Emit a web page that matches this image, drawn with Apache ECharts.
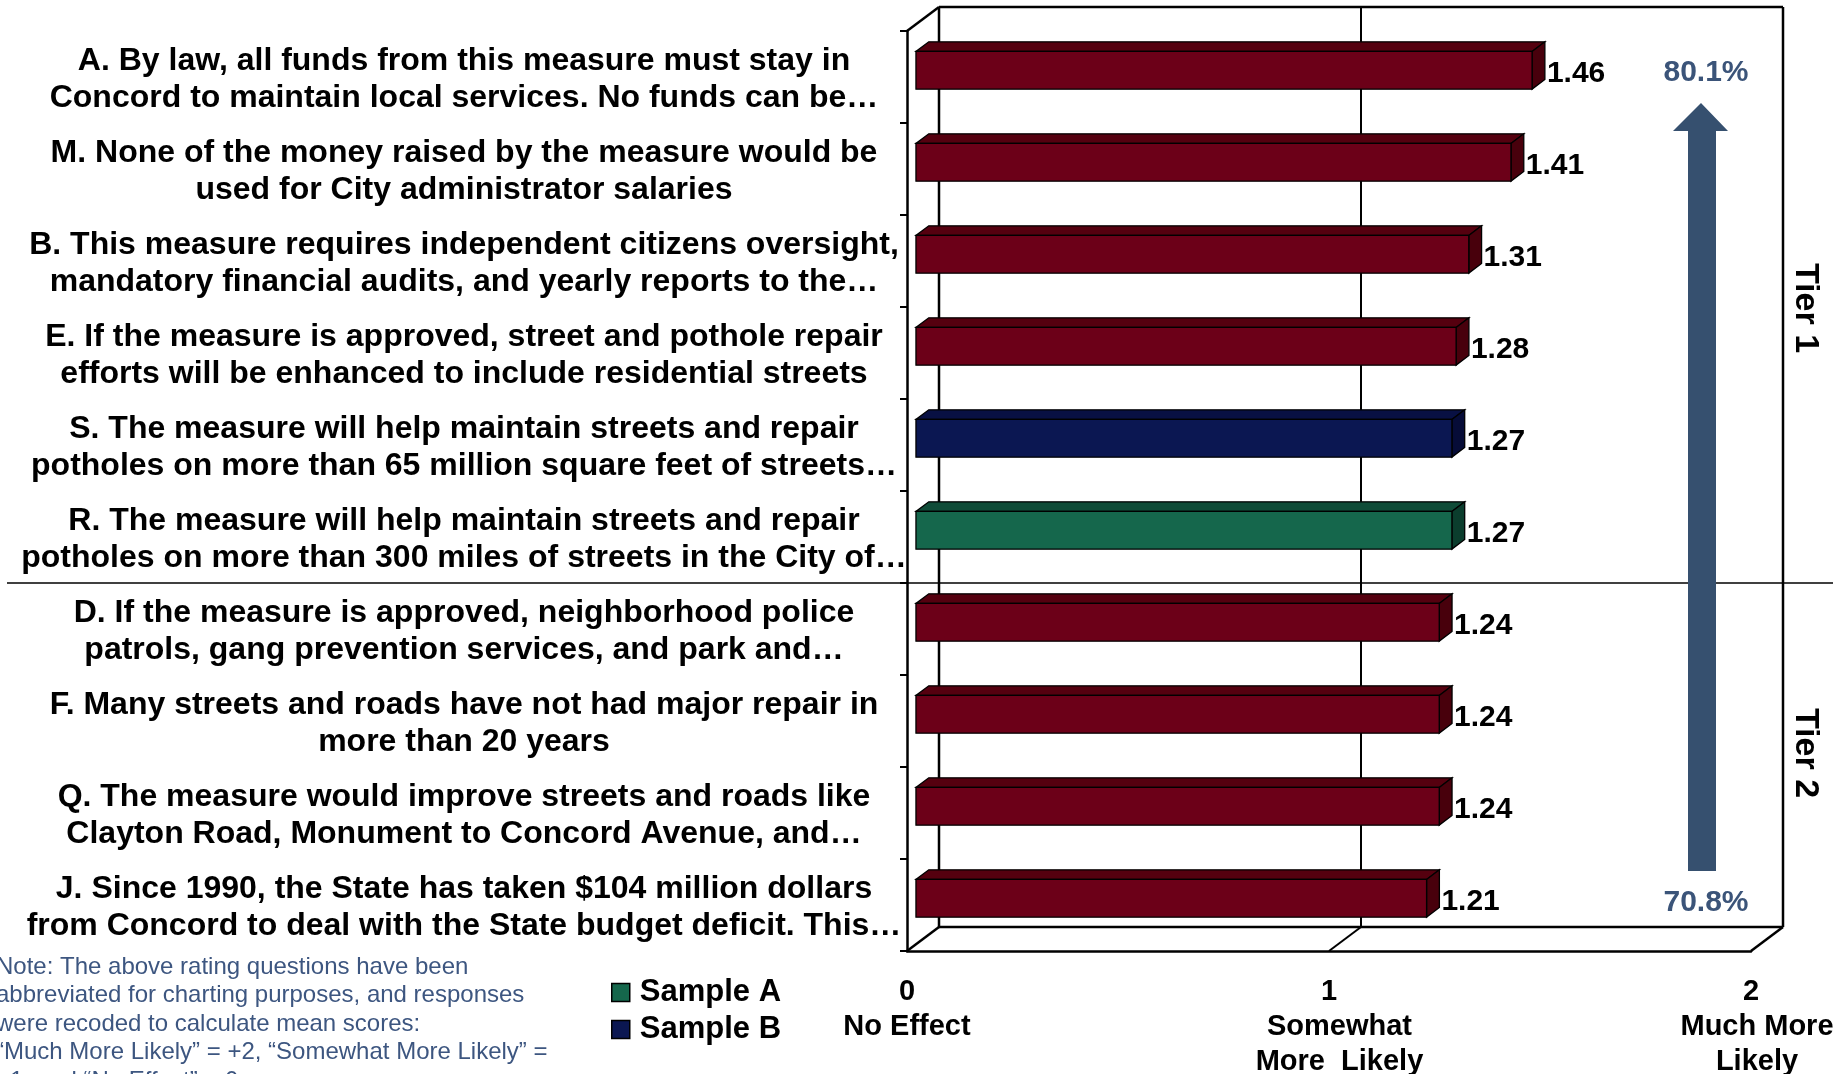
<!DOCTYPE html>
<html>
<head>
<meta charset="utf-8">
<script src="https://cdn.jsdelivr.net/npm/echarts@6/dist/echarts.min.js"></script>
<style>
  html, body { margin: 0; padding: 0; background: #fff; }
  #chart { width: 1841px; height: 1074px; }
</style>
</head>
<body>
<div id="chart"></div>
<script>
// ---------------- data ----------------
const CATEGORIES = [
  "A. By law, all funds from this measure must stay in\nConcord to maintain local services. No funds can be…",
  "M. None of the money raised by the measure would be\nused for City administrator salaries",
  "B. This measure requires independent citizens oversight,\nmandatory financial audits, and yearly reports to the…",
  "E. If the measure is approved, street and pothole repair\nefforts will be enhanced to include residential streets",
  "S. The measure will help maintain streets and repair\npotholes on more than 65 million square feet of streets…",
  "R. The measure will help maintain streets and repair\npotholes on more than 300 miles of streets in the City of…",
  "D. If the measure is approved, neighborhood police\npatrols, gang prevention services, and park and…",
  "F. Many streets and roads have not had major repair in\nmore than 20 years",
  "Q. The measure would improve streets and roads like\nClayton Road, Monument to Concord Avenue, and…",
  "J. Since 1990, the State has taken $104 million dollars\nfrom Concord to deal with the State budget deficit. This…"
];
const VALUES = [1.46, 1.41, 1.31, 1.28, 1.27, 1.27, 1.24, 1.24, 1.24, 1.21];
const SAMPLE = ["All", "All", "All", "All", "Sample B", "Sample A", "All", "All", "All", "All"];
const X_TICK_NUMBERS = ["0", "1", "2"];
const X_TICK_NAMES = ["No Effect", "Somewhat\nMore  Likely", "Much More\nLikely"];
const TIER_LABELS = ["Tier 1", "Tier 2"];
const PCT_TOP = "80.1%";
const PCT_BOTTOM = "70.8%";
const NOTE = "Note: The above rating questions have been\nabbreviated for charting purposes, and responses\nwere recoded to calculate mean scores:\n“Much More Likely” = +2, “Somewhat More Likely” =\n+1, and “No Effect” = 0.";

// ---------------- styles ----------------
const FONT = "'Liberation Sans', Arial, sans-serif";
const DEPTH_X = 32, DEPTH_Y = -24;     // back wall offset
const BAR_POS = 0.28, BAR_DEPTH = 0.4, BAR_FRAC = 0.41;
const COLORS = {
  "All":      { front: "#6c0018", top: "#55000f", side: "#48000c" },
  "Sample A": { front: "#15674c", top: "#0f4c38", side: "#0b3d2d" },
  "Sample B": { front: "#0b1752", top: "#081043", side: "#060c37" }
};

function barRenderer(group) {
  const c = COLORS[group];
  return function (params, api) {
    const cat = api.value(0), val = api.value(1);
    const base = api.coord([0, cat]);
    const end = api.coord([val, cat]);
    const band = api.size([0, 1])[1];
    const h = band * BAR_FRAC;
    const fx = DEPTH_X * BAR_POS, fy = DEPTH_Y * BAR_POS;
    const x0 = base[0] + fx, x1 = end[0] + fx;
    const yT = base[1] + fy - h / 2, yB = yT + h;
    const dx = DEPTH_X * BAR_DEPTH, dy = DEPTH_Y * BAR_DEPTH;
    const st = { stroke: "#000", lineWidth: 1.3 };
    return {
      type: "group",
      children: [
        { type: "polygon", shape: { points: [[x0, yT], [x1, yT], [x1 + dx, yT + dy], [x0 + dx, yT + dy]] },
          style: Object.assign({ fill: c.top }, st) },
        { type: "polygon", shape: { points: [[x1, yT], [x1 + dx, yT + dy], [x1 + dx, yB + dy], [x1, yB]] },
          style: Object.assign({ fill: c.side }, st) },
        { type: "rect", shape: { x: x0, y: yT, width: x1 - x0, height: h },
          style: Object.assign({ fill: c.front }, st) },
        { type: "text", style: { text: val.toFixed(2), x: x1 + dx + 2, y: yT + h / 2 + 3,
          align: "left", verticalAlign: "middle", fill: "#000",
          font: "bold 30px " + FONT } }
      ]
    };
  };
}

function frameRenderer(params, api) {
  const cs = params.coordSys;
  const x0 = cs.x, y0 = cs.y, x2 = cs.x + cs.width, yb = cs.y + cs.height;
  const x1 = api.coord([1, 0])[0];
  const band = api.size([0, 1])[1];
  const D = DEPTH_X, E = DEPTH_Y;
  const ln = (a, b, c, d, w) => ({ type: "line", shape: { x1: a, y1: b, x2: c, y2: d },
    style: { stroke: "#000", lineWidth: w || 2.5 } });
  const sepY = y0 + band * 6;
  return {
    type: "group",
    children: [
      ln(x0 + D, y0 + E, x0 + D, yb + E),
      ln(x0 + D, y0 + E, x2 + D, y0 + E),
      ln(x2 + D, y0 + E, x2 + D, yb + E),
      ln(x0 + D, yb + E, x2 + D, yb + E),
      ln(x1 + D, y0 + E, x1 + D, yb + E, 2),
      ln(x1, yb, x1 + D, yb + E, 2),
      ln(x0, y0, x0 + D, y0 + E),
      ln(x0, yb, x0 + D, yb + E),
      ln(x2, yb, x2 + D, yb + E),
      ln(7, sepY, 1833, sepY, 1.6)
    ]
  };
}

function seriesData(group) {
  const out = [];
  VALUES.forEach((v, i) => { if (SAMPLE[i] === group) out.push([i, v]); });
  return out;
}

const NAME_SHIFT = [0, 21, 12];   // horizontal nudge of the descriptive tick text
const chart = echarts.init(document.getElementById("chart"), null, { renderer: "canvas" });
const option = {
  backgroundColor: "#fff",
  animation: false,
  textStyle: { fontFamily: FONT },
  grid: { left: 907, right: 90, top: 31, bottom: 123, containLabel: false, outerBoundsMode: "none" },
  legend: {
    data: ["Sample A", "Sample B"],
    orient: "vertical",
    left: 606, top: 972,
    icon: "rect", itemWidth: 18, itemHeight: 18, itemGap: 6,
    itemStyle: { borderColor: "#000", borderWidth: 1.5 },
    textStyle: { fontSize: 31, fontWeight: "bold", color: "#000", lineHeight: 31, padding: [0, 0, 0, 5], fontFamily: FONT },
    selectedMode: false
  },
  xAxis: {
    type: "value", min: 0, max: 2, interval: 1,
    axisLine: { show: true, lineStyle: { color: "#000", width: 2.5 } },
    axisTick: { show: false },
    splitLine: { show: false },
    axisLabel: {
      formatter: (v) => {
        const i = Math.round(v);
        const name = X_TICK_NAMES[i].split("\n").map(s => "{d" + i + "|" + s + "}").join("\n");
        return "{n|" + X_TICK_NUMBERS[i] + "}\n" + name;
      },
      rich: {
        n: { fontSize: 29, fontWeight: "bold", color: "#000", lineHeight: 35, fontFamily: FONT },
        d0: { fontSize: 29, fontWeight: "bold", color: "#000", lineHeight: 35, fontFamily: FONT, padding: [0, 0, 0, NAME_SHIFT[0]] },
        d1: { fontSize: 29, fontWeight: "bold", color: "#000", lineHeight: 35, fontFamily: FONT, padding: [0, 0, 0, NAME_SHIFT[1]] },
        d2: { fontSize: 29, fontWeight: "bold", color: "#000", lineHeight: 35, fontFamily: FONT, padding: [0, 0, 0, NAME_SHIFT[2]] }
      },
      fontSize: 29, fontWeight: "bold", color: "#000", lineHeight: 35, margin: 23, fontFamily: FONT
    }
  },
  yAxis: {
    type: "category", inverse: true, data: CATEGORIES,
    axisLine: { show: true, lineStyle: { color: "#000", width: 2.5 } },
    axisTick: { show: true, length: 7, lineStyle: { color: "#000", width: 2 } },
    axisLabel: {
      interval: 0, align: "center", margin: 443,
      formatter: (v) => "{s| }\n" + v.split("\n").map(s => "{t|" + s + "}").join("\n"),
      rich: {
        s: { fontSize: 4, lineHeight: 5 },
        t: { fontSize: 32, fontWeight: "bold", color: "#000", lineHeight: 37.5, fontFamily: FONT }
      },
      fontSize: 32, fontWeight: "bold", color: "#000", lineHeight: 37.5, fontFamily: FONT
    }
  },
  graphic: [
    { type: "polygon", z: 10, shape: { points: [[1701, 103], [1728, 131], [1716, 131], [1716, 871], [1688, 871], [1688, 131], [1673, 131]] },
      style: { fill: "#36506f" } },
    { type: "text", z: 10, x: 1706, y: 73, style: { text: PCT_TOP, align: "center", verticalAlign: "middle",
      font: "bold 30px " + FONT, fill: "#3b5479" } },
    { type: "text", z: 10, x: 1706, y: 903, style: { text: PCT_BOTTOM, align: "center", verticalAlign: "middle",
      font: "bold 30px " + FONT, fill: "#3b5479" } },
    { type: "text", z: 10, x: 1805, y: 308, rotation: -Math.PI / 2, style: { text: TIER_LABELS[0], align: "center", verticalAlign: "middle",
      font: "bold 34px " + FONT, fill: "#000" } },
    { type: "text", z: 10, x: 1805, y: 753, rotation: -Math.PI / 2, style: { text: TIER_LABELS[1], align: "center", verticalAlign: "middle",
      font: "bold 34px " + FONT, fill: "#000" } },
    { type: "text", z: 10, x: -4, y: 953, style: { text: NOTE, align: "left", verticalAlign: "top",
      font: "24px " + FONT, lineHeight: 28.5, fill: "#3d5680" } }
  ],
  series: [
    { type: "custom", name: "frame", silent: true, z: 1, renderItem: frameRenderer, data: [[0, 0]], encode: { x: 1, y: 0 } },
    { type: "custom", name: "All", z: 3, renderItem: barRenderer("All"), data: seriesData("All"), encode: { x: 1, y: 0 },
      itemStyle: { color: COLORS["All"].front } },
    { type: "custom", name: "Sample B", z: 3, renderItem: barRenderer("Sample B"), data: seriesData("Sample B"), encode: { x: 1, y: 0 },
      itemStyle: { color: COLORS["Sample B"].front } },
    { type: "custom", name: "Sample A", z: 3, renderItem: barRenderer("Sample A"), data: seriesData("Sample A"), encode: { x: 1, y: 0 },
      itemStyle: { color: COLORS["Sample A"].front } }
  ]
};
chart.setOption(option);
</script>
</body>
</html>
